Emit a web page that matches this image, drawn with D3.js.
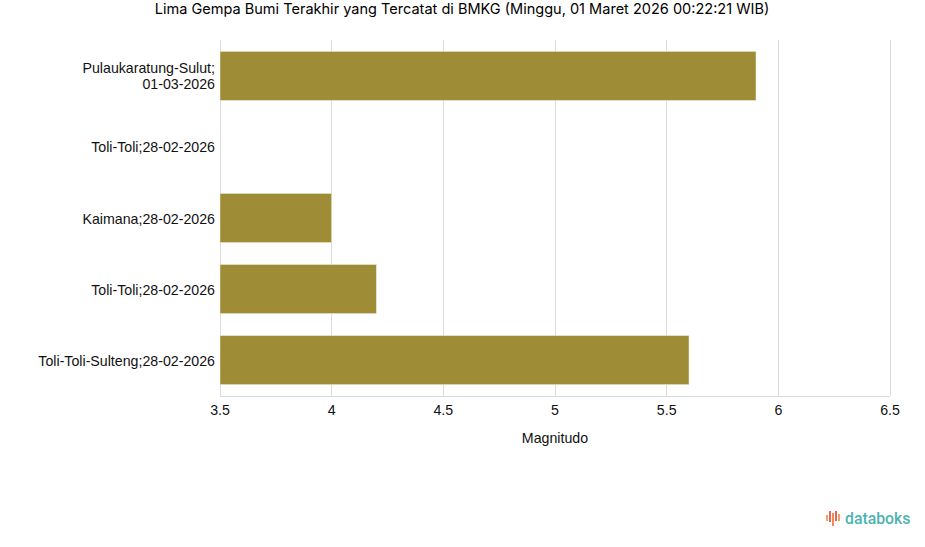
<!DOCTYPE html>
<html><head><meta charset="utf-8">
<script src="https://cdn.jsdelivr.net/npm/d3@7"></script>
<style>body{margin:0;background:#fff;}</style>
</head><body>
<svg id="c" width="925" height="547"></svg>
<script>
const title = "Lima Gempa Bumi Terakhir yang Tercatat di BMKG (Minggu, 01 Maret 2026 00:22:21 WIB)";
const categories = [["Pulaukaratung-Sulut;","01-03-2026"],["Toli-Toli;28-02-2026"],["Kaimana;28-02-2026"],["Toli-Toli;28-02-2026"],["Toli-Toli-Sulteng;28-02-2026"]];
const values = [5.9, 3.5, 4.0, 4.2, 5.6];
const xTicks = [3.5, 4, 4.5, 5, 5.5, 6, 6.5];
const xLabel = "Magnitudo";

const svg = d3.select("#c");
const m = {l:220, r:890, t:40, b:396};
const x = d3.scaleLinear().domain([3.5, 6.5]).range([m.l, m.r]);
const y = d3.scaleBand().domain(d3.range(categories.length)).range([m.t, m.b]).paddingInner(0.31).paddingOuter(0.16);

const tt = svg.append("text").attr("x", 462).attr("y", 14).attr("text-anchor","middle")
  .attr("font-family","Inter").attr("font-size",14.3).attr("fill","#000").text(title);
const tw = tt.node().getComputedTextLength();
if (Math.abs(tw - 615) > 8) tt.attr("font-size", 14.3 * 615 / tw);

// grid
svg.append("g").selectAll("line").data(xTicks).join("line")
  .attr("x1", d=>x(d)).attr("x2", d=>x(d)).attr("y1", m.t).attr("y2", m.b)
  .attr("stroke","#dcdcdc").attr("stroke-width",1).attr("shape-rendering","crispEdges");
svg.append("line").attr("x1", m.l).attr("x2", m.r).attr("y1", m.b+0.5).attr("y2", m.b+0.5)
  .attr("stroke","#dcdcdc");

// bars
svg.append("g").selectAll("rect").data(values).join("rect")
  .attr("x", x(3.5)).attr("y", (d,i)=>y(i)).attr("height", y.bandwidth())
  .attr("width", d=>Math.max(0, x(d)-x(3.5)))
  .attr("fill","#9e8c36").attr("stroke","#ebe7cf").attr("stroke-width",0.6);

// y labels
const yl = svg.append("g").attr("font-family","Liberation Sans, Arial").attr("font-size",14.2).attr("fill","#111");
categories.forEach((lines,i)=>{
  const cy = y(i)+y.bandwidth()/2;
  const t = yl.append("text").attr("text-anchor","end").attr("x", 215);
  lines.forEach((ln,j)=>{
    t.append("tspan").attr("x",215).attr("y", cy + 5.5 + (j - (lines.length-1)/2)*16).text(ln);
  });
});

// x ticks
svg.append("g").selectAll("text").data(xTicks).join("text")
  .attr("x", d=>x(d)).attr("y", 415).attr("text-anchor","middle")
  .attr("font-family","Liberation Sans, Arial").attr("font-size",14.2).attr("fill","#111")
  .text(d=>d3.format("")(d));
svg.append("text").attr("x", 555).attr("y", 443).attr("text-anchor","middle")
  .attr("font-family","Liberation Sans, Arial").attr("font-size",14.2).attr("fill","#111").text(xLabel);

// logo
const logo = svg.append("g").attr("transform","translate(826,511)");
const iconBars = [[0,4,6,"#f0a070"],[3,0,11,"#e8654f"],[6,2,13,"#f08a5d"],[9,0,10,"#e8654f"],[12,3,7,"#f0a070"]];
logo.selectAll("rect").data(iconBars).join("rect")
  .attr("x",d=>d[0]).attr("y",d=>d[1]).attr("width",2).attr("height",d=>d[2]).attr("fill",d=>d[3]);
logo.append("text").attr("x",19).attr("y",13).attr("font-family","Roboto").attr("font-size",15.8)
  .attr("font-weight",500).attr("fill","#4db3b0").text("databoks");
</script>
</body></html>
